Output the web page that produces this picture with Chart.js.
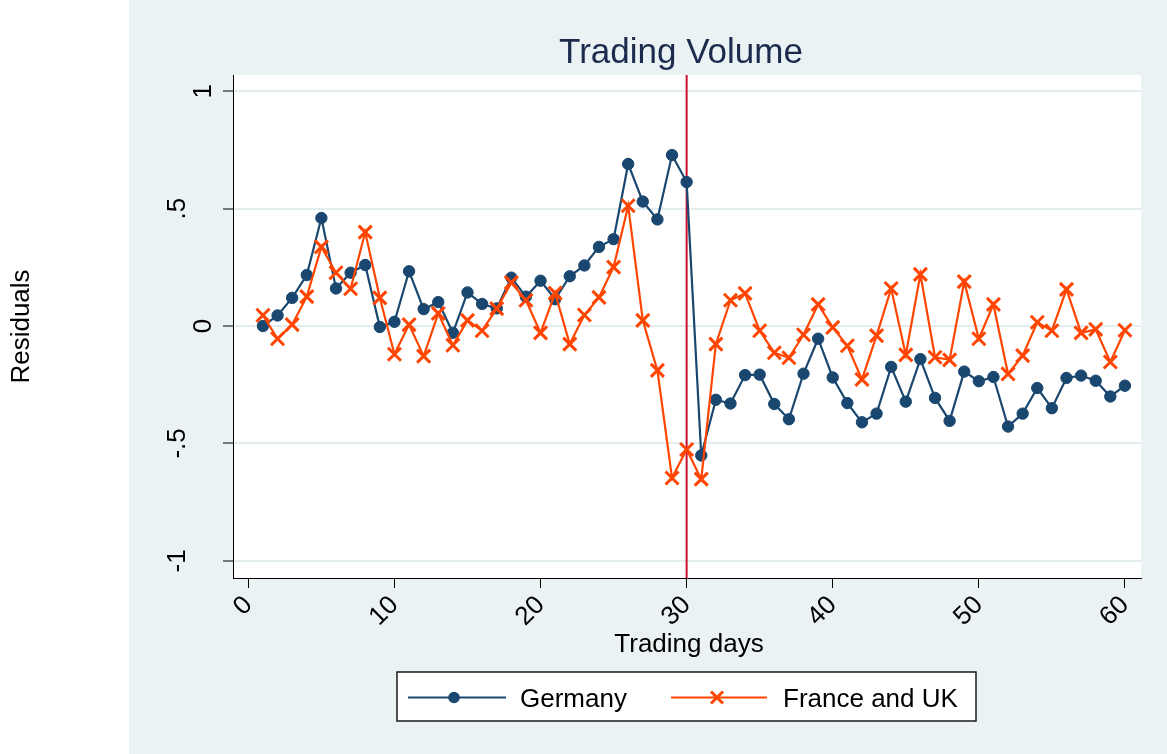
<!DOCTYPE html>
<html>
<head>
<meta charset="utf-8">
<script src="https://cdn.jsdelivr.net/npm/chart.js@4.4.1/dist/chart.umd.min.js"></script>
<style>
  html, body { margin: 0; padding: 0; background: #ffffff; }
  canvas { display: block; }
</style>
</head>
<body>
<canvas id="c" width="1167" height="754"></canvas>
<script>
// ---- data ----
const days = [1,2,3,4,5,6,7,8,9,10,11,12,13,14,15,16,17,18,19,20,
              21,22,23,24,25,26,27,28,29,30,31,32,33,34,35,36,37,38,39,40,
              41,42,43,44,45,46,47,48,49,50,51,52,53,54,55,56,57,58,59,60];
const germany = [0.000, 0.045, 0.120, 0.217, 0.460, 0.160, 0.227, 0.260, -0.004, 0.018,
                 0.233, 0.072, 0.102, -0.029, 0.143, 0.094, 0.075, 0.206, 0.125, 0.193,
                 0.114, 0.212, 0.258, 0.337, 0.370, 0.690, 0.530, 0.454, 0.728, 0.613,
                 -0.551, -0.314, -0.330, -0.209, -0.207, -0.332, -0.397, -0.203, -0.054, -0.219,
                 -0.328, -0.410, -0.373, -0.174, -0.322, -0.141, -0.306, -0.404, -0.194, -0.235,
                 -0.217, -0.428, -0.373, -0.264, -0.350, -0.221, -0.211, -0.233, -0.300, -0.254];
const franceUK = [0.046, -0.054, 0.006, 0.125, 0.337, 0.227, 0.159, 0.400, 0.120, -0.120,
                  0.006, -0.128, 0.054, -0.082, 0.024, -0.020, 0.074, 0.185, 0.110, -0.029,
                  0.140, -0.077, 0.047, 0.122, 0.251, 0.512, 0.024, -0.189, -0.647, -0.526,
                  -0.652, -0.077, 0.110, 0.139, -0.020, -0.114, -0.135, -0.037, 0.092, -0.006,
                  -0.084, -0.227, -0.041, 0.160, -0.123, 0.220, -0.133, -0.144, 0.189, -0.054,
                  0.092, -0.204, -0.126, 0.016, -0.020, 0.156, -0.029, -0.014, -0.153, -0.018];
const seriesNames = ["Germany", "France and UK"];
const xTickValues = [0, 10, 20, 30, 40, 50, 60];
const xTickLabels = ["0", "10", "20", "30", "40", "50", "60"];
const yTickValues = [-1, -0.5, 0, 0.5, 1];
const yTickLabels = ["-1", "-.5", "0", ".5", "1"];
const eventDay = 30;
const chartTitle = "Trading Volume";
const xTitle = "Trading days";
const yTitle = "Residuals";

// ---- styles ----
const FONT = "'Liberation Sans', Arial, Helvetica, sans-serif";
const NAVY = "#1a476f";
const ORANGE = "#ff4500";
const RED = "#c8102e";
const OUTER = "#eaf2f3";
const GRID = "#e3ecee";

const decor = {
  id: 'decor',
  beforeDraw(chart) {
    const ctx = chart.ctx, a = chart.chartArea;
    ctx.save();
    ctx.fillStyle = '#ffffff';
    ctx.fillRect(0, 0, chart.width, chart.height);
    ctx.fillStyle = OUTER;
    ctx.fillRect(129, 0, chart.width - 129, chart.height);
    ctx.fillStyle = '#ffffff';
    ctx.fillRect(a.left, a.top, a.right - a.left, a.bottom - a.top);
    ctx.restore();
  },
  beforeDatasetsDraw(chart) {
    const ctx = chart.ctx, a = chart.chartArea;
    const px = chart.scales.x.getPixelForValue(eventDay);
    ctx.save();
    ctx.strokeStyle = RED;
    ctx.lineWidth = 2;
    ctx.beginPath();
    ctx.moveTo(px, a.top);
    ctx.lineTo(px, a.bottom);
    ctx.stroke();
    ctx.restore();
  },
  afterDraw(chart) {
    const ctx = chart.ctx, a = chart.chartArea, ys = chart.scales.y;
    ctx.save();
    // y tick labels (rotated, reading upward)
    ctx.fillStyle = '#000000';
    ctx.font = `26px ${FONT}`;
    yTickValues.forEach((v, i) => {
      const lab = yTickLabels[i];
      const bx = lab.length === 1 ? 211 : 185;
      ctx.save();
      ctx.translate(bx, ys.getPixelForValue(v));
      ctx.rotate(-Math.PI / 2);
      ctx.textAlign = 'center';
      ctx.textBaseline = 'alphabetic';
      ctx.fillText(lab, 0, 0);
      ctx.restore();
    });
    // title
    ctx.fillStyle = '#1c2a4d';
    ctx.font = `35px ${FONT}`;
    ctx.textAlign = 'center';
    ctx.textBaseline = 'alphabetic';
    ctx.fillText(chartTitle, 681, 63);
    // axis titles
    ctx.fillStyle = '#000000';
    ctx.font = `26px ${FONT}`;
    ctx.fillText(xTitle, (a.left + a.right) / 2 + 2, 652);
    ctx.save();
    ctx.translate(22, (a.top + a.bottom) / 2);
    ctx.rotate(-Math.PI / 2);
    ctx.textBaseline = 'middle';
    ctx.fillText(yTitle, 0, 0);
    ctx.restore();
    // legend
    const bx = 397, by = 672, bw = 579, bh = 49;
    ctx.fillStyle = '#ffffff';
    ctx.fillRect(bx, by, bw, bh);
    ctx.strokeStyle = '#1a1a1a';
    ctx.lineWidth = 1.5;
    ctx.strokeRect(bx, by, bw, bh);
    const ly = 697.5;
    // Germany
    ctx.strokeStyle = NAVY; ctx.lineWidth = 2.2;
    ctx.beginPath(); ctx.moveTo(408, ly); ctx.lineTo(506, ly); ctx.stroke();
    ctx.fillStyle = NAVY;
    ctx.beginPath(); ctx.arc(454, ly, 5.8, 0, Math.PI * 2); ctx.fill();
    // France and UK
    ctx.strokeStyle = ORANGE;
    ctx.beginPath(); ctx.moveTo(671, ly); ctx.lineTo(767, ly); ctx.stroke();
    ctx.lineWidth = 3;
    const r = 6;
    ctx.beginPath();
    ctx.moveTo(717 - r, ly - r); ctx.lineTo(717 + r, ly + r);
    ctx.moveTo(717 - r, ly + r); ctx.lineTo(717 + r, ly - r);
    ctx.stroke();
    ctx.fillStyle = '#000000';
    ctx.font = `26px ${FONT}`;
    ctx.textAlign = 'left';
    ctx.textBaseline = 'alphabetic';
    ctx.fillText(seriesNames[0], 520, 707);
    ctx.fillText(seriesNames[1], 783, 707);
    ctx.restore();
  }
};

const toPoints = (ys) => days.map((d, i) => ({ x: d, y: ys[i] }));

new Chart(document.getElementById('c'), {
  type: 'line',
  data: {
    datasets: [
      {
        label: seriesNames[0],
        data: toPoints(germany),
        borderColor: NAVY,
        backgroundColor: NAVY,
        borderWidth: 2.2,
        pointStyle: 'circle',
        pointRadius: 5.7,
        pointBorderWidth: 1,
        pointBackgroundColor: NAVY,
        pointBorderColor: NAVY,
        tension: 0,
        order: 2
      },
      {
        label: seriesNames[1],
        data: toPoints(franceUK),
        borderColor: ORANGE,
        backgroundColor: ORANGE,
        borderWidth: 2.2,
        pointStyle: 'crossRot',
        pointRadius: 9.2,
        pointBorderWidth: 3,
        pointBorderColor: ORANGE,
        tension: 0,
        order: 1
      }
    ]
  },
  options: {
    responsive: false,
    animation: false,
    events: [],
    layout: { padding: { left: 0, right: 26, top: 75, bottom: 0 } },
    plugins: {
      legend: { display: false },
      title: { display: false },
      tooltip: { enabled: false }
    },
    scales: {
      x: {
        type: 'linear',
        min: -1.05,
        max: 61.1,
        afterBuildTicks: (s) => { s.ticks = xTickValues.map(v => ({ value: v })); },
        afterFit: (s) => { s.height = 754 - 578; },
        grid: { drawOnChartArea: false, drawTicks: true, tickLength: 10, tickColor: '#000', tickWidth: 1 },
        border: { display: true, color: '#000', width: 1 },
        ticks: {
          autoSkip: false,
          minRotation: 45,
          maxRotation: 45,
          padding: 2,
          color: '#000',
          font: { family: FONT, size: 26 },
          callback: (v) => { const i = xTickValues.indexOf(v); return i >= 0 ? xTickLabels[i] : ''; }
        }
      },
      y: {
        type: 'linear',
        min: -1.073,
        max: 1.069,
        afterBuildTicks: (s) => { s.ticks = yTickValues.map(v => ({ value: v })); },
        afterFit: (s) => { s.width = 233; },
        grid: { color: GRID, lineWidth: 2, drawTicks: true, tickLength: 10, tickColor: '#000', tickWidth: 1 },
        border: { display: true, color: '#000', width: 1 },
        ticks: {
          minRotation: 90,
          maxRotation: 90,
          crossAlign: 'center',
          padding: 10,
          color: 'rgba(0,0,0,0)',
          font: { family: FONT, size: 26 },
          callback: (v) => { const i = yTickValues.indexOf(v); return i >= 0 ? yTickLabels[i] : ''; }
        }
      }
    }
  },
  plugins: [decor]
});
</script>
</body>
</html>
